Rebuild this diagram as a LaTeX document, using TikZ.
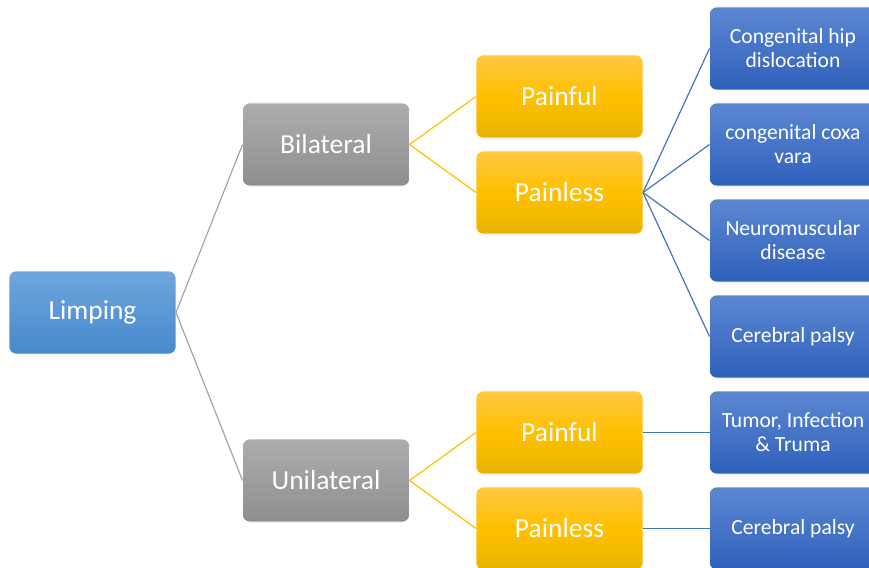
\documentclass[tikz,border=0pt]{standalone}
\usepackage{fontspec}
\setmainfont{Carlito}
\begin{document}
\begin{tikzpicture}[x=1pt,y=-1pt,
  box/.style={rounded corners=7pt, minimum width=167pt, minimum height=83pt, inner sep=0pt, outer sep=0pt, text=white, align=center, draw=white, line width=0.6pt},
  rootbox/.style={box, top color=rootT, bottom color=rootB, font=\fontsize{27.5}{31}\selectfont},
  graybox/.style={box, top color=grayT, bottom color=grayB, font=\fontsize{27.5}{31}\selectfont},
  yelbox/.style={box, top color=yelT, bottom color=yelB, middle color=yelM, font=\fontsize{27.5}{31}\selectfont},
  bluebox/.style={box, top color=blueT, bottom color=blueB, font=\fontsize{21.6}{24}\selectfont},
  gline/.style={draw=lineG, line width=1.2pt},
  yline/.style={draw=lineY, line width=1.2pt},
  bline/.style={draw=lineB, line width=1.2pt}]
\definecolor{rootT}{HTML}{6FA6DD}
\definecolor{rootB}{HTML}{4689CC}
\definecolor{grayT}{HTML}{ADADAD}
\definecolor{grayB}{HTML}{8E8E8E}
\definecolor{yelT}{HTML}{FFC840}
\definecolor{yelM}{HTML}{FFC000}
\definecolor{yelB}{HTML}{E8B400}
\definecolor{blueT}{HTML}{5C87D2}
\definecolor{blueB}{HTML}{2F60BB}
\definecolor{lineG}{HTML}{A5A5A5}
\definecolor{lineY}{HTML}{FFC000}
\definecolor{lineB}{HTML}{4472C4}
\useasboundingbox (0,0) rectangle (869,567);
\clip (0,0) rectangle (869,567);
\node[rootbox] (limp) at (92.5,312.5) {Limping};
\node[graybox] (bil) at (326,144.5) {Bilateral};
\node[graybox] (uni) at (326,480.5) {Unilateral};
\node[yelbox] (bpf) at (559.5,96.5) {Painful};
\node[yelbox] (bpl) at (559.5,192.5) {Painless};
\node[yelbox] (upf) at (559.5,432.5) {Painful};
\node[yelbox] (upl) at (559.5,528.5) {Painless};
\node[bluebox] (c1) at (793,48.5) {Congenital hip\\dislocation};
\node[bluebox] (c2) at (793,144.5) {congenital coxa\\vara};
\node[bluebox] (c3) at (793,240.5) {Neuromuscular\\disease};
\node[bluebox] (c4) at (793,336.5) {Cerebral palsy};
\node[bluebox] (c5) at (793,432.5) {Tumor, Infection\\\& Truma};
\node[bluebox] (c6) at (793,528.5) {Cerebral palsy};
\draw[gline] (limp.east) -- (bil.west);
\draw[gline] (limp.east) -- (uni.west);
\draw[yline] (bil.east) -- (bpf.west);
\draw[yline] (bil.east) -- (bpl.west);
\draw[yline] (uni.east) -- (upf.west);
\draw[yline] (uni.east) -- (upl.west);
\foreach \n in {c1,c2,c3,c4} \draw[bline] (bpl.east) -- (\n.west);
\draw[bline] (upf.east) -- (c5.west);
\draw[bline] (upl.east) -- (c6.west);
\end{tikzpicture}
\end{document}
